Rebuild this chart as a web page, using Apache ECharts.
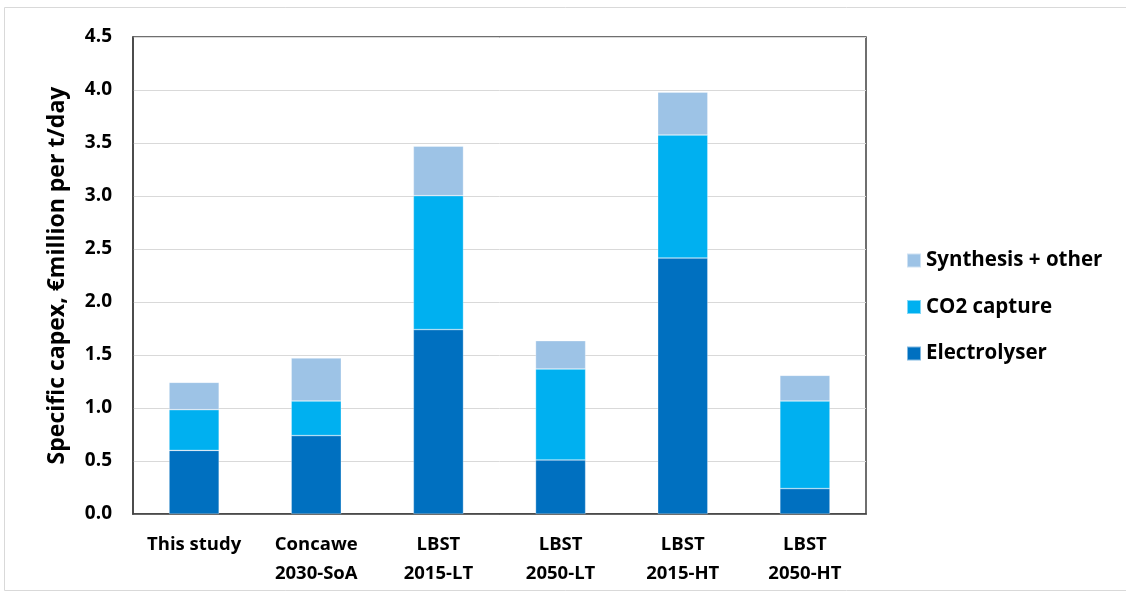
<!DOCTYPE html>
<html><head><meta charset="utf-8">
<script src="https://cdn.jsdelivr.net/npm/echarts@6/dist/echarts.min.js"></script>
<style>html,body{margin:0;padding:0;background:#fff}#c{width:1126px;height:595px}</style>
</head><body><div id="c"></div>
<script>
const categories = ['This study', 'Concawe\n2030-SoA', 'LBST\n2015-LT', 'LBST\n2050-LT', 'LBST\n2015-HT', 'LBST\n2050-HT'];
const electrolyser = [0.60, 0.74, 1.74, 0.51, 2.415, 0.24];
const co2Capture = [0.384, 0.326, 1.263, 0.858, 1.16, 0.826];
const synthesis = [0.258, 0.405, 0.467, 0.267, 0.405, 0.242];
const yTicks = [0, 0.5, 1.0, 1.5, 2.0, 2.5, 3.0, 3.5, 4.0, 4.5];

const FONT = 'Open Sans';
const chart = echarts.init(document.getElementById('c'), null, {renderer: 'canvas'});
const barStyle = c => ({color: c, borderColor: 'rgba(255,255,255,0.5)', borderWidth: 0.6});
chart.setOption({
  animation: false,
  textStyle: {fontFamily: FONT},
  graphic: [{type: 'rect', shape: {x: 4.5, y: 7.5, width: 1130, height: 583}, style: {fill: 'none', stroke: '#d9d9d9', lineWidth: 1}}],
  grid: {left: 133, right: 260, top: 37, bottom: 81, show: true, borderColor: '#404040', borderWidth: 1.5},
  legend: {
    orient: 'vertical', left: 901, top: 245, itemGap: 25.5, itemWidth: 14, itemHeight: 14,
    icon: 'rect',
    textStyle: {fontFamily: FONT, fontWeight: 'bold', fontSize: 20.5, color: '#000'},
    data: ['Synthesis + other', 'CO2 capture', 'Electrolyser']
  },
  xAxis: {
    type: 'category', data: categories,
    axisLine: {show: true, lineStyle: {color: '#404040', width: 1.5}},
    axisTick: {show: false},
    axisLabel: {fontFamily: FONT, fontWeight: 'bold', fontSize: 18.5, color: '#000', lineHeight: 29, margin: 16, interval: 0}
  },
  yAxis: {
    type: 'value', min: 0, max: 4.5, interval: 0.5,
    name: 'Specific capex, €million per t/day', nameLocation: 'middle', nameGap: 64,
    nameTextStyle: {fontFamily: FONT, fontWeight: 'bold', fontSize: 23, color: '#000'},
    axisLine: {show: true, lineStyle: {color: '#404040', width: 1.5}},
    axisTick: {show: false},
    splitLine: {lineStyle: {color: '#d9d9d9', width: 1}},
    axisLabel: {fontFamily: FONT, fontWeight: 'bold', fontSize: 19, color: '#000', margin: 21,
      formatter: v => { const t = yTicks.find(x => Math.abs(x - v) < 1e-9); return (t !== undefined ? t : v).toFixed(1); }}
  },
  series: [
    {name: 'Electrolyser', type: 'bar', stack: 'a', barWidth: '41%', data: electrolyser, itemStyle: barStyle('#0070C0')},
    {name: 'CO2 capture', type: 'bar', stack: 'a', data: co2Capture, itemStyle: barStyle('#00B0F0')},
    {name: 'Synthesis + other', type: 'bar', stack: 'a', data: synthesis, itemStyle: barStyle('#9DC3E6')}
  ]
});
</script></body></html>
